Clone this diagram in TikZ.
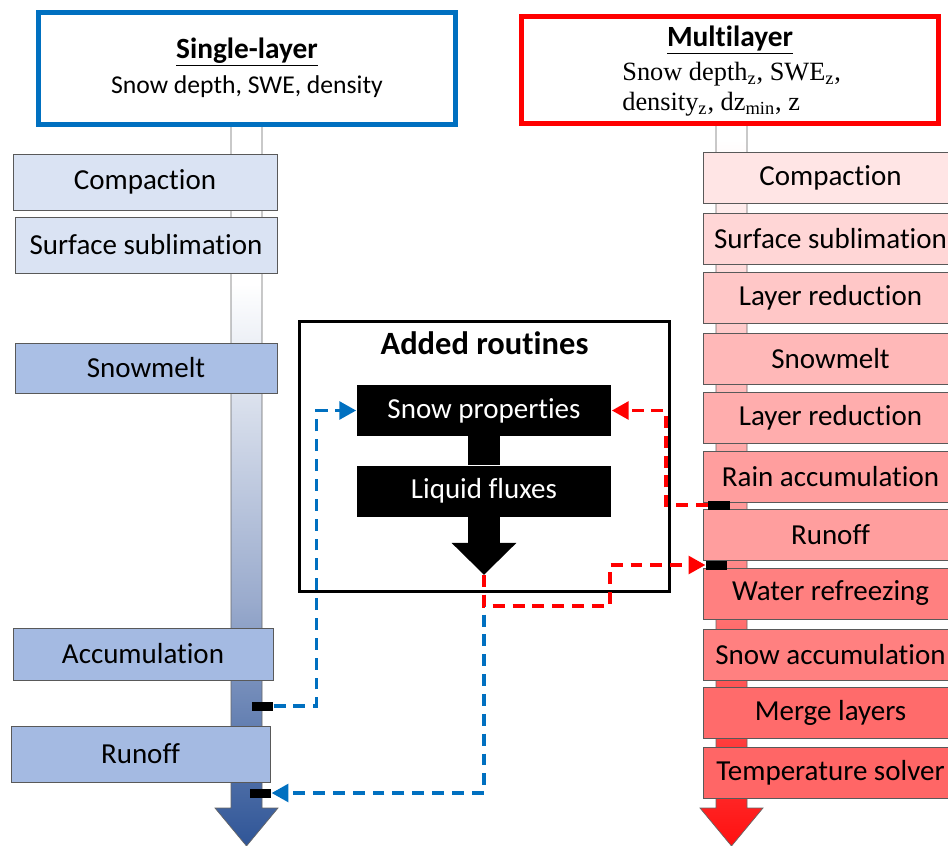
\documentclass[tikz,border=0pt]{standalone}
\usepackage{fontspec}
\setmainfont{Carlito}[Ligatures=NoCommon]
\newfontfamily\serifface{Liberation Serif}
\usepackage{xcolor}
\usetikzlibrary{calc,arrows.meta,positioning}

\definecolor{slblue}{HTML}{0070C0}
\definecolor{lb1}{HTML}{DAE3F3}
\definecolor{lb2}{HTML}{AABFE5}
\definecolor{lb3}{HTML}{A4BAE2}
\definecolor{sdark}{HTML}{2F5597}
\definecolor{smid}{HTML}{9AABCD}
\definecolor{rdark}{HTML}{FF1010}
\definecolor{rmid}{HTML}{FF8A8A}
\definecolor{rlight}{HTML}{FFEFEF}

\pgfdeclareverticalshading{shaftblue}{100bp}{color(0bp)=(sdark); color(25bp)=(sdark); color(42bp)=(smid); color(64bp)=(white); color(100bp)=(white)}
\pgfdeclareverticalshading{shaftred}{100bp}{color(0bp)=(rdark); color(25bp)=(rdark); color(45bp)=(rmid); color(70bp)=(rlight); color(74bp)=(white); color(100bp)=(white)}

\begin{document}
\begin{tikzpicture}[x=0.02cm,y=-0.02cm]
	\tikzstyle{routine}=[draw=black!65, thin, inner sep=0pt, minimum height=1.02cm, font=\fontsize{16.5}{18}\selectfont]
	\tikzstyle{mlroutine}=[routine, minimum width=5.1cm]
	\tikzstyle{header}=[draw, line width=2.8pt, inner sep=0pt]
	\tikzstyle{added}=[fill=black, text=white, inner sep=0pt, minimum width=5.1cm, minimum height=1.02cm, font=\fontsize{16.5}{18}\selectfont]
	\tikzstyle{marker}=[fill=black, inner sep=0pt, minimum width=0.43cm, minimum height=0.18cm]
	\tikzstyle{flow}=[line width=0.64cm, black]
	\tikzstyle{link}=[line width=2pt, dash pattern=on 6.8pt off 4.5pt, -{Triangle[length=9.5pt,width=10pt]}]

	\useasboundingbox (0,0) rectangle (948,846);

	% shafts
	\shade[shading=shaftblue, draw=black!60] (231,125) -- (231,808) -- (215,808) -- (246.5,846) -- (278,808) -- (262,808) -- (262,125) -- cycle;
	\shade[shading=shaftred, draw=black!60] (716,125) -- (716,808) -- (700,808) -- (731.5,846) -- (763,808) -- (747,808) -- (747,125) -- cycle;

	% single-layer
	\node (slbox) [header, draw=slblue, minimum width=8.34cm, minimum height=2.24cm] at (247,68.5) {};
	\node (sltitle) at (247,52) {\fontsize{16.7}{18}\selectfont\underline{\textbf{Single-layer}}};
	\node (sltext) at (247,87) {\fontsize{14.6}{16}\selectfont Snow depth, SWE, density};

	\node (lComp) [routine, fill=lb1, minimum width=5.28cm, minimum height=1.12cm] at (145,182) {Compaction};
	\node (lSubl) [routine, fill=lb1, minimum width=5.24cm, minimum height=1.12cm] at (146,245) {Surface sublimation};
	\node (lMelt) [routine, fill=lb2, minimum width=5.24cm, minimum height=1.0cm] at (146,368) {Snowmelt};
	\node (lAccu) [routine, fill=lb3, minimum width=5.2cm, minimum height=1.04cm] at (143,654) {Accumulation};
	\node (lRun) [routine, fill=lb3, minimum width=5.18cm, minimum height=1.12cm] at (140.5,754) {Runoff};

	% multilayer
	\node (mlbox) [header, draw=red, minimum width=8.34cm, minimum height=2.14cm] at (730,70) {};
	\node (mltitle) at (730,40) {\fontsize{16.7}{18}\selectfont\underline{\textbf{Multilayer}}};
	\node (mltext1) [anchor=west, inner sep=0pt] at (622,74) {\serifface\fontsize{15}{17}\selectfont Snow depth\textsubscript{z}, SWE\textsubscript{z},};
	\node (mltext2) [anchor=west, inner sep=0pt] at (622,104) {\serifface\fontsize{15}{17}\selectfont density\textsubscript{z}, dz\textsubscript{min}, z};

	\node (rComp) [mlroutine, fill=red!10] at (830.5,177.5) {Compaction};
	\node (rSubl) [mlroutine, fill=red!16] at (830.5,239) {Surface sublimation};
	\node (rRed1) [mlroutine, fill=red!22] at (830.5,298) {Layer reduction};
	\node (rMelt) [mlroutine, fill=red!28] at (830.5,358.5) {Snowmelt};
	\node (rRed2) [mlroutine, fill=red!32] at (830.5,418) {Layer reduction};
	\node (rRain) [mlroutine, fill=red!38] at (830.5,477) {Rain accumulation};
	\node (rRun) [mlroutine, fill=red!38] at (830.5,535) {Runoff};
	\node (rFrz) [mlroutine, fill=red!50] at (830.5,593.5) {Water refreezing};
	\node (rSnow) [mlroutine, fill=red!50] at (830.5,654.5) {Snow accumulation};
	\node (rMerge) [mlroutine, fill=red!58] at (830.5,713) {Merge layers};
	\node (rTemp) [mlroutine, fill=red!60] at (830.5,773) {Temperature solver};

	% added routines
	\node (addbox) [draw, line width=1.7pt, minimum width=7.4cm, minimum height=5.4cm] at (484.5,456.5) {};
	\node (addtitle) at (484.5,343) {\fontsize{18.5}{20}\selectfont\textbf{Added routines}};
	\node (sp) [added] at (484,410.5) {Snow properties};
	\node (lf) [added] at (484,491) {Liquid fluxes};
	\coordinate (tip) at ($(lf.south)+(0,58)$);
	\draw[flow] (sp.south) -- (lf.north);
	\draw[flow, -{Triangle[length=0.64cm,width=1.26cm]}] (lf.south) -- (tip);

	% coupling markers
	\node (mL1) [marker] at (262.5,706) {};
	\node (mL2) [marker] at (260.5,793) {};
	\node (mR1) [marker] at (719,505) {};
	\node (mR2) [marker] at (716.5,565) {};

	\draw[link, slblue] (mL1.east) -- ++(43,0) |- (sp.west);
	\draw[link, slblue] (tip) |- (mL2.east);
	\draw[link, red] (mR1.west) -- ++(-42,0) |- (sp.east);
	\draw[link, red] (tip) -- ++(0,31) -- ++(126,0) |- (mR2.west);
	\node [marker] at (mL1) {};
	\node [marker] at (mL2) {};
	\node [marker] at (mR1) {};
	\node [marker] at (mR2) {};
\end{tikzpicture}
\end{document}
